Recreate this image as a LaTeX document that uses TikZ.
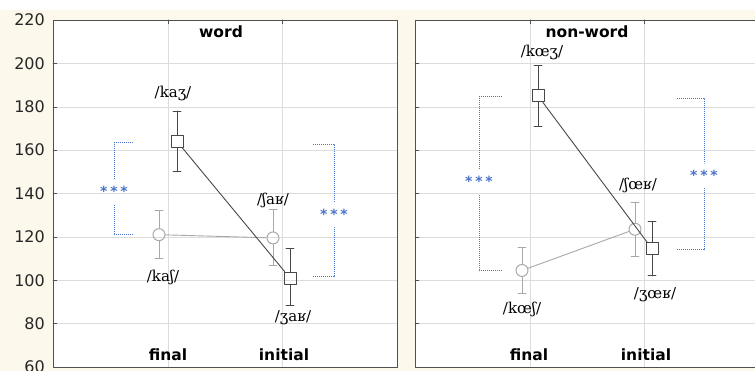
\documentclass[tikz,border=0pt]{standalone}
\usepackage{fontspec}
\setmainfont{DejaVu Sans}
\newfontfamily\ipafont{DejaVu Serif}
\definecolor{cream}{HTML}{FDF8EC}
\definecolor{sigblue}{HTML}{4A74C9}
\definecolor{darkline}{HTML}{474747}
\definecolor{lightline}{HTML}{A8A8A8}
\definecolor{gridgray}{HTML}{DCDCDC}
\definecolor{framegray}{HTML}{505050}
\tikzset{
	sq/.style={draw=darkline, line width=1pt, minimum size=12pt, inner sep=0pt},
	ci/.style={circle, draw=lightline, line width=1pt, minimum size=12pt, inner sep=0pt},
	dbar/.style={draw=darkline, line width=.9pt},
	lbar/.style={draw=lightline, line width=.9pt},
	sig/.style={draw=sigblue, line width=1pt, line cap=butt, dash pattern=on 1pt off 1pt},
	stars/.style={text=sigblue, font=\bfseries\fontsize{14}{14}\selectfont\addfontfeature{LetterSpace=20}, minimum height=24pt, inner sep=0pt},
	ipa/.style={font=\ipafont\fontsize{15}{15}\selectfont},
	ttl/.style={font=\bfseries\fontsize{15.5}{16}\selectfont},
	tick/.style={anchor=east, text=black!85, font=\fontsize{16}{16}\selectfont, inner sep=0pt}
}
\begin{document}
\begin{tikzpicture}[x=1pt, y=2.169pt, line join=round, line cap=round]
	\def\yb{58.2} \def\yt{229.2} \def\cw{4} % page limits (values), cap half width
	\useasboundingbox (0,\yb) rectangle (755,\yt);
	\clip (0,\yb) rectangle (755,\yt);
	\fill[cream] (0,\yb) rectangle (755,224.6);
	\fill[white] (53,60) rectangle (397,220);
	\fill[white] (415,60) rectangle (759,220);
	\foreach \v in {80,100,...,200} \draw[gridgray] (53,\v)--(397,\v) (415,\v)--(759,\v);
	\foreach \xg in {167.7,282.3,529.7,644.3} \draw[gridgray] (\xg,60)--(\xg,220);
	\foreach \v in {80,100,...,200} \draw[framegray] (53,\v)--++(4,0) (415,\v)--++(4,0);
	\foreach \xg in {167.7,282.3,529.7,644.3} \draw[framegray] (\xg,220)--++(0,-1.8);
	\draw[framegray] (53,60) rectangle (397,220);
	\draw[framegray] (415,60) rectangle (759,220);
	\foreach \v in {60,80,...,220} \node[tick] (t\v) at (45,\v) {\v};
	
	% word
	\node[ttl] (word) at (221,214.5) {word};
	\node[sq] (wfs) at (177,164) {};
	\node[ci] (wfc) at (159,121) {};
	\node[ci] (wic) at (273,119.5) {};
	\node[sq] (wis) at (290,101) {};
	\draw[dbar] (wfs.north)--(177,178) +(-\cw,0)--+(\cw,0) (wfs.south)--(177,150) +(-\cw,0)--+(\cw,0);
	\draw[lbar] (wfc.north)--(159,132) +(-\cw,0)--+(\cw,0) (wfc.south)--(159,110) +(-\cw,0)--+(\cw,0);
	\draw[lbar] (wic.north)--(273,132.5) +(-\cw,0)--+(\cw,0) (wic.south)--(273,107) +(-\cw,0)--+(\cw,0);
	\draw[dbar] (wis.north)--(290,114.5) +(-\cw,0)--+(\cw,0) (wis.south)--(290,88.5) +(-\cw,0)--+(\cw,0);
	\draw[lbar] (wfc)--(wic);
	\draw[dbar] (wfs)--(wis);
	\node[ipa] (kaz) at (173,185.9) {/kaʒ/};
	\node[ipa] (kas) at (163,101.5) {/kaʃ/};
	\node[ipa] (sar) at (273,136.7) {/ʃaʁ/};
	\node[ipa] (zar) at (293,82.6) {/ʒaʁ/};
	\node[ttl] (wfin) at (168,65.6) {final};
	\node[ttl] (wini) at (284,65.6) {initial};
	\node[stars] (sw1) at (114,140.8) {***};
	\node[stars] (sw2) at (334,130.2) {***};
	\coordinate (sw1a) at (133,163.3); \coordinate (sw1b) at (133,120.9);
	\coordinate (sw2a) at (313,162.8); \coordinate (sw2b) at (313,101.5);
	\draw[sig] (sw1a) -| (sw1.north) (sw1b) -| (sw1.south);
	\draw[sig] (sw2a) -| (sw2.north) (sw2b) -| (sw2.south);
	
	% non-word
	\node[ttl] (nword) at (587,214.5) {non-word};
	\node[sq] (nfs) at (538,185) {};
	\node[ci] (nfc) at (522,104.5) {};
	\node[ci] (nic) at (635,123.5) {};
	\node[sq] (nis) at (652,114.5) {};
	\draw[dbar] (nfs.north)--(538,199) +(-\cw,0)--+(\cw,0) (nfs.south)--(538,171) +(-\cw,0)--+(\cw,0);
	\draw[lbar] (nfc.north)--(522,115) +(-\cw,0)--+(\cw,0) (nfc.south)--(522,94) +(-\cw,0)--+(\cw,0);
	\draw[lbar] (nic.north)--(635,136) +(-\cw,0)--+(\cw,0) (nic.south)--(635,111) +(-\cw,0)--+(\cw,0);
	\draw[dbar] (nis.north)--(652,127) +(-\cw,0)--+(\cw,0) (nis.south)--(652,102) +(-\cw,0)--+(\cw,0);
	\draw[lbar] (nfc)--(nic);
	\draw[dbar] (nfs)--(nis);
	\node[ipa] (koz) at (542,204.8) {/kœʒ/};
	\node[ipa] (kos) at (522,86.3) {/kœʃ/};
	\node[ipa] (sor) at (638,143.9) {/ʃœʁ/};
	\node[ipa] (zor) at (655,93.2) {/ʒœʁ/};
	\node[ttl] (nfin) at (529,65.6) {final};
	\node[ttl] (nini) at (646,65.6) {initial};
	\node[stars] (sn1) at (479,145.4) {***};
	\node[stars] (sn2) at (704,148.4) {***};
	\coordinate (sn1a) at (502,184.5); \coordinate (sn1b) at (502,104.3);
	\coordinate (sn2a) at (677,184); \coordinate (sn2b) at (677,114);
	\draw[sig] (sn1a) -| (sn1.north) (sn1b) -| (sn1.south);
	\draw[sig] (sn2a) -| (sn2.north) (sn2b) -| (sn2.south);
\end{tikzpicture}
\end{document}
